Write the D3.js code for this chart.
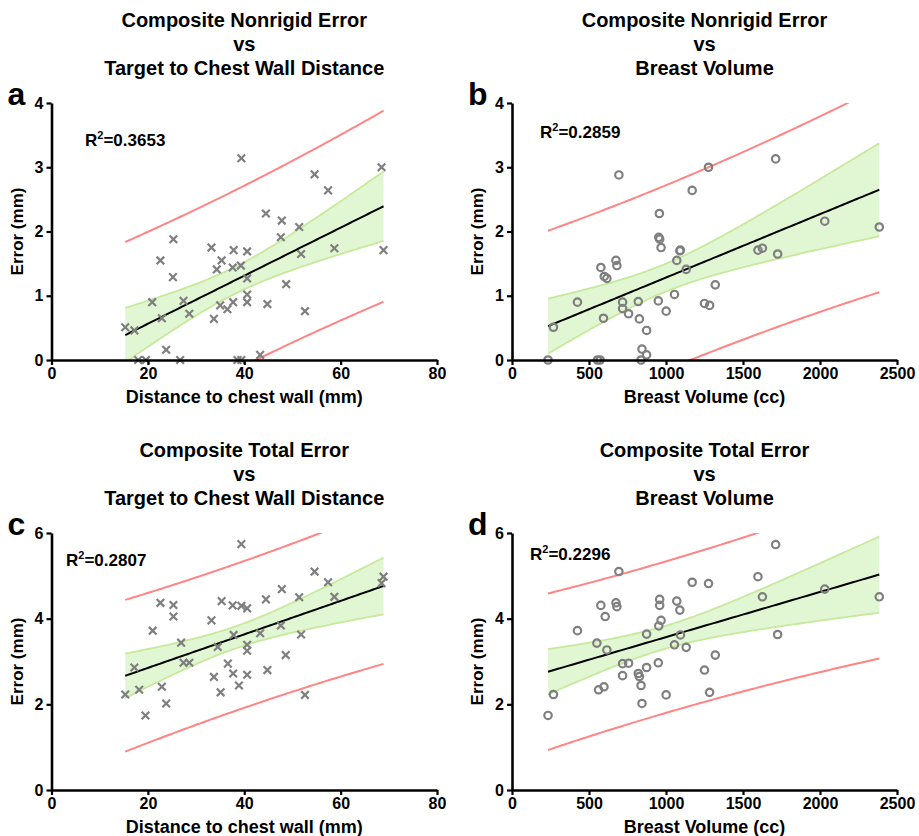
<!DOCTYPE html>
<html><head><meta charset="utf-8">
<script src="https://cdn.jsdelivr.net/npm/d3@7"></script>
<style>
body{margin:0;background:#fff}
text{font-family:"Liberation Sans",Arial,sans-serif;font-weight:bold;fill:#000}
</style>
</head><body>
<svg id="chart" width="919" height="836"></svg>
<script>
// ---------- data ----------
const distA = [15.3,17.2,18.0,19.6,20.9,22.6,22.9,23.8,25.3,25.2,26.7,27.4,28.6,33.2,33.7,34.3,35.3,35.0,36.5,37.7,37.8,37.6,39.4,39.3,38.6,39.4,40.6,40.6,40.6,40.6,43.3,44.5,44.8,47.8,47.6,48.7,51.4,51.8,52.6,54.6,57.4,58.7,68.5,68.9];
const nonrigidA = [0.51,0.46,0,0,0.90,1.55,0.65,0.16,1.88,1.29,0,0.92,0.72,1.75,0.64,1.41,1.55,0.85,0.79,0.90,1.71,1.44,3.14,1.47,0,0,1.69,1.27,1.02,0.90,0.08,2.28,0.87,2.17,1.91,1.18,2.07,1.65,0.76,2.89,2.64,1.74,3.00,1.71];

const volB = [234,269,425,577,599,616,594,555,572,675,681,694,718,718,757,820,827,874,844,874,838,950,957,953,959,968,1001,1055,1070,1090,1093,1131,1170,1276,1712,1320,1250,1283,1597,1626,1725,2031,2385];
const nonrigidB = [0,0.51,0.90,1.44,1.30,1.27,0.65,0,0,1.55,1.47,2.88,0.90,0.80,0.72,0.91,0.64,0.46,0.17,0.08,0,0.92,2.28,1.91,1.88,1.75,0.76,1.02,1.55,1.70,1.71,1.41,2.64,3.00,3.13,1.17,0.88,0.85,1.71,1.74,1.65,2.16,2.07];

const distC = [15.3,17.2,18.2,19.5,21.0,22.6,22.9,23.8,25.3,25.3,26.9,27.4,28.6,33.2,33.7,34.5,35.1,35.3,36.6,37.8,37.7,37.6,38.9,39.4,39.4,40.6,40.6,40.6,40.6,43.3,44.5,44.8,47.8,47.6,48.6,51.4,51.8,52.6,54.6,57.4,58.7,68.5,68.9];
const totalC = [2.23,2.86,2.34,1.74,3.72,4.37,2.41,2.02,4.32,4.05,3.44,2.97,2.97,3.96,2.64,3.34,2.28,4.41,2.95,3.62,2.72,4.31,2.44,5.74,4.30,4.24,3.39,3.25,2.69,3.66,4.45,2.80,4.69,3.84,3.15,4.50,3.63,2.22,5.10,4.85,4.51,4.83,4.98];

const volD = [234,269,425,551,562,597,577,605,616,675,681,694,718,718,757,820,827,838,844,874,874,950,953,959,959,968,1001,1055,1070,1090,1094,1131,1170,1276,1712,1320,1250,1283,1597,1626,1725,2031,2385];
const totalD = [1.74,2.23,3.72,3.43,2.34,2.41,4.31,4.05,3.27,4.37,4.28,5.10,2.95,2.67,2.96,2.72,2.65,2.44,2.02,3.64,2.86,2.97,3.83,4.45,4.31,3.96,2.22,3.39,4.41,4.20,3.62,3.33,4.85,4.82,5.73,3.15,2.80,2.28,4.98,4.51,3.63,4.69,4.51];

const panelLetters = ["a","b","c","d"];
const titleTop = ["Composite Nonrigid Error","Composite Nonrigid Error","Composite Total Error","Composite Total Error"];
const titleBottom = ["Target to Chest Wall Distance","Breast Volume","Target to Chest Wall Distance","Breast Volume"];
const xLabels = ["Distance to chest wall (mm)","Breast Volume (cc)","Distance to chest wall (mm)","Breast Volume (cc)"];
const yLabel = "Error (mm)";
const r2Labels = ["0.3653","0.2859","0.2807","0.2296"];
const distTicks = [0,20,40,60,80];
const volTicks = [0,500,1000,1500,2000,2500];
const nonrigidTicks = [0,1,2,3,4];
const totalTicks = [0,2,4,6];

// ---------- layout ----------
const svg = d3.select("#chart");
const COL_GRAY = "#7f7f7f", COL_PRED = "#ff8585", COL_CI_FILL = "#e1f6d3", COL_CI_LINE = "#c6e99c";

const panels = [
  {xs:distA, ys:nonrigidA, xt:distTicks, yt:nonrigidTicks, marker:"x", L:51.5, R:437, T:103, B:360, titleY:27, r2x:85, r2y:146},
  {xs:volB, ys:nonrigidB, xt:volTicks, yt:nonrigidTicks, marker:"o", L:512, R:897, T:103, B:360, titleY:27, r2x:540, r2y:138},
  {xs:distC, ys:totalC, xt:distTicks, yt:totalTicks, marker:"x", L:51.5, R:437, T:533, B:790, titleY:457, r2x:66, r2y:566},
  {xs:volD, ys:totalD, xt:volTicks, yt:totalTicks, marker:"o", L:512, R:897, T:533, B:790, titleY:457, r2x:530, r2y:560}
];

function regress(xs, ys){
  const n = xs.length, xm = d3.mean(xs), ym = d3.mean(ys);
  let sxx=0, sxy=0;
  for(let i=0;i<n;i++){ sxx += (xs[i]-xm)**2; sxy += (xs[i]-xm)*(ys[i]-ym); }
  const b = sxy/sxx, a = ym - b*xm;
  let sse=0; for(let i=0;i<n;i++){ sse += (ys[i]-a-b*xs[i])**2; }
  const s = Math.sqrt(sse/(n-2));
  const t = 2.02;
  return {a,b,n,xm,sxx,s,t};
}

panels.forEach((p,i)=>{
  const g = svg.append("g");
  const x = d3.scaleLinear().domain([p.xt[0], p.xt[p.xt.length-1]]).range([p.L, p.R]);
  const y = d3.scaleLinear().domain([p.yt[0], p.yt[p.yt.length-1]]).range([p.B, p.T]);
  const cx = (p.L+p.R)/2;

  // titles
  const tt = g.append("text").attr("x", cx).attr("text-anchor","middle").style("font-size","20px");
  tt.append("tspan").attr("x",cx).attr("y",p.titleY).text(titleTop[i]);
  tt.append("tspan").attr("x",cx).attr("y",p.titleY+24).text("vs");
  tt.append("tspan").attr("x",cx).attr("y",p.titleY+48).text(titleBottom[i]);

  // panel letter
  g.append("text").attr("x", p.L-44).attr("y", p.T+2).style("font-size","32px").text(panelLetters[i]);

  // clip
  const cid = "clip"+i;
  svg.append("clipPath").attr("id",cid).append("rect")
    .attr("x",p.L).attr("y",p.T).attr("width",p.R-p.L).attr("height",p.B-p.T);

  // regression
  const r = regress(p.xs, p.ys);
  const xmin = d3.min(p.xs), xmax = d3.max(p.xs);
  const grid = d3.range(0, 101).map(k => xmin + (xmax-xmin)*k/100);
  const band = grid.map(xv => {
    const f = r.a + r.b*xv;
    const h = r.t*r.s*Math.sqrt(1/r.n + (xv-r.xm)**2/r.sxx);
    const hp = r.t*r.s*Math.sqrt(1 + 1/r.n + (xv-r.xm)**2/r.sxx);
    return {x:xv, f, lo:f-h, hi:f+h, plo:f-hp, phi:f+hp};
  });
  const pg = g.append("g").attr("clip-path",`url(#${cid})`);
  pg.append("path").datum(band)
    .attr("d", d3.area().x(d=>x(d.x)).y0(d=>y(d.lo)).y1(d=>y(d.hi)))
    .attr("fill", COL_CI_FILL);
  ["lo","hi"].forEach(k=>{
    pg.append("path").datum(band).attr("d", d3.line().x(d=>x(d.x)).y(d=>y(d[k])))
      .attr("fill","none").attr("stroke",COL_CI_LINE).attr("stroke-width",1.8);
  });
  ["plo","phi"].forEach(k=>{
    pg.append("path").datum(band).attr("d", d3.line().x(d=>x(d.x)).y(d=>y(d[k])))
      .attr("fill","none").attr("stroke",COL_PRED).attr("stroke-width",2);
  });
  pg.append("path").datum(band).attr("d", d3.line().x(d=>x(d.x)).y(d=>y(d.f)))
    .attr("fill","none").attr("stroke","#000").attr("stroke-width",2);

  // points
  const pts = p.xs.map((xv,k)=>({x:xv, y:p.ys[k]}));
  if(p.marker==="x"){
    g.append("g").selectAll("path").data(pts).join("path")
      .attr("transform", d=>`translate(${x(d.x)},${y(d.y)})`)
      .attr("d","M-3.8,-3.8L3.8,3.8M-3.8,3.8L3.8,-3.8")
      .attr("stroke",COL_GRAY).attr("stroke-width",2.2).attr("fill","none");
  } else {
    g.append("g").selectAll("circle").data(pts).join("circle")
      .attr("cx", d=>x(d.x)).attr("cy", d=>y(d.y)).attr("r",3.7)
      .attr("stroke",COL_GRAY).attr("stroke-width",2.2).attr("fill","none");
  }

  // axes
  const fmt = d3.format("d");
  const xa = g.append("g").attr("transform",`translate(0,${p.B})`)
    .call(d3.axisBottom(x).tickValues(p.xt).tickFormat(fmt).tickSize(5).tickSizeOuter(0).tickPadding(3));
  const ya = g.append("g").attr("transform",`translate(${p.L},0)`)
    .call(d3.axisLeft(y).tickValues(p.yt).tickFormat(fmt).tickSize(5).tickSizeOuter(0).tickPadding(3));
  [xa, ya].forEach(a=>{
    a.selectAll("path.domain").attr("stroke","#000").attr("stroke-width",2.6);
    a.selectAll("line").attr("stroke","#000").attr("stroke-width",2.2);
    a.selectAll("text").style("font-size","16px").style("font-family",'"Liberation Sans",Arial,sans-serif').style("font-weight","bold");
  });

  // axis labels
  g.append("text").attr("x",cx).attr("y",p.B+43).attr("text-anchor","middle").style("font-size","18px").text(xLabels[i]);
  g.append("text").attr("transform",`translate(${p.L-29},${(p.T+p.B)/2}) rotate(-90)`)
    .attr("text-anchor","middle").style("font-size","17px").text(yLabel);

  // R2
  const rt = g.append("text").attr("x",p.r2x).attr("y",p.r2y).style("font-size","17px");
  rt.append("tspan").text("R");
  rt.append("tspan").attr("dy",-7).style("font-size","11px").text("2");
  rt.append("tspan").attr("dy",7).text("=" + r2Labels[i]);
});
</script>
</body></html>
